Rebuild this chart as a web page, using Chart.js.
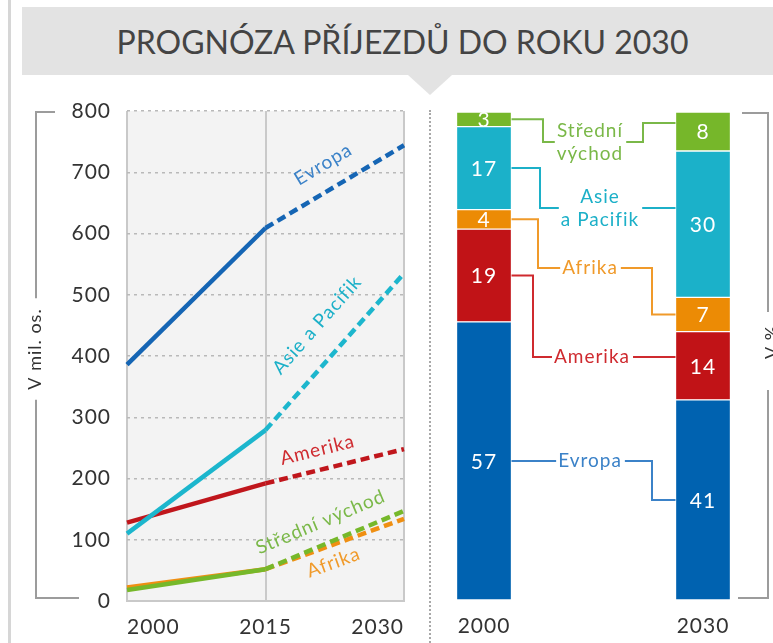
<!DOCTYPE html>
<html><head><meta charset="utf-8">
<script src="https://cdn.jsdelivr.net/npm/chart.js@4.4.1/dist/chart.umd.min.js"></script>
<style>
html,body{margin:0;padding:0;background:#fff;width:773px;height:643px;overflow:hidden}
#wrap{position:relative;width:773px;height:643px;font-family:Lato,sans-serif}
#edge{position:absolute;left:8px;top:0;width:3px;height:643px;background:#d6d6d6}
#titlebox{position:absolute;left:22px;top:7px;width:751px;height:68px;background:#e3e3e3}
#title{position:absolute;left:22px;top:7px;width:761px;height:68px;line-height:70px;text-align:center;font-size:32px;color:#444;white-space:nowrap}
#tri{position:absolute;left:408px;top:75px;width:0;height:0;border-left:22px solid transparent;border-right:22px solid transparent;border-top:20px solid #e3e3e3}
#sep{position:absolute;left:429px;top:110px;height:533px;border-left:2px dotted #a8a8a8}
#c1{position:absolute;left:0;top:0}
#c2{position:absolute;left:430px;top:0}
</style></head>
<body><div id="wrap">
<div id="edge"></div>
<div id="titlebox"></div>
<div id="title">PROGNÓZA PŘÍJEZDŮ DO ROKU 2030</div>
<div id="tri"></div>
<div id="sep"></div>
<canvas id="c1" width="430" height="643" style="width:430px;height:643px"></canvas>
<canvas id="c2" width="343" height="643" style="width:343px;height:643px"></canvas>
</div>
<script>
// ---------- DATA ----------
const years = ['2000', '2015', '2030'];
const evropa = [386, 609, 744];
const asiePacifik = [110, 279, 535];
const amerika = [128, 192, 248];
const stredniVychod = [18, 52, 147];
const afrika = [22, 52, 134];

const barYears = ['2000', '2030'];
const shareEvropa = [57, 41];
const shareAmerika = [19, 14];
const shareAfrika = [4, 7];
const shareAsie = [17, 30];
const shareStredni = [3, 8];

const regionNames = ['Evropa', 'Asie a Pacifik', 'Amerika', 'Střední východ', 'Afrika'];

// ---------- STYLE ----------
const FONT = 'Lato, sans-serif';
const col = {
  evropa: '#1565b4', evropaTxt: '#3b82c8',
  asie: '#1cb6cd', asieTxt: '#1cb0c8',
  amerika: '#c0161c', amerikaTxt: '#cf2a2f',
  sv: '#76b82a', svTxt: '#7ab848',
  afrika: '#ef8f12', afrikaTxt: '#f09a2a'
};
const dashSeg = { borderDash: c => c.p0DataIndex >= 1 ? [9, 5] : undefined };

function lineDs(label, data, color) {
  return { label, data, borderColor: color, backgroundColor: color, borderWidth: 4.5,
    pointRadius: 0, tension: 0, borderCapStyle: 'butt', segment: dashSeg, clip: false };
}

const spacing = {
  id: 'spacing',
  beforeDraw(chart) { chart.ctx.letterSpacing = '1px'; }
};

// labels along projected segment: t = fraction along 2015-2030, d = normal offset (px)
const lineLabels = [
  { ds: 0, text: 'Evropa', color: col.evropaTxt, t: 0.51, d: 25 },
  { ds: 1, text: 'Asie a Pacifik', color: col.asieTxt, t: 0.54, d: 31 },
  { ds: 2, text: 'Amerika', color: col.amerikaTxt, t: 0.41, d: 20 },
  { ds: 3, text: 'Střední východ', color: col.svTxt, t: 0.46, d: 22 },
  { ds: 4, text: 'Afrika', color: col.afrikaTxt, t: 0.45, d: -17 }
];

const lineDeco = {
  id: 'lineDeco',
  beforeDraw(chart) {
    const { ctx, chartArea: a } = chart;
    ctx.save();
    ctx.fillStyle = '#f3f3f3';
    ctx.fillRect(a.left, a.top, a.right - a.left, a.bottom - a.top);
    ctx.restore();
  },
  afterDatasetsDraw(chart) {
    const ctx = chart.ctx;
    ctx.save();
    ctx.font = '19px ' + FONT;
    ctx.textAlign = 'center'; ctx.textBaseline = 'middle';
    for (const L of lineLabels) {
      const m = chart.getDatasetMeta(L.ds);
      const p0 = m.data[1], p1 = m.data[2];
      const dx = p1.x - p0.x, dy = p1.y - p0.y, len = Math.hypot(dx, dy);
      const ux = dx / len, uy = dy / len, nx = uy, ny = -ux;
      const cx = p0.x + ux * len * L.t + nx * L.d;
      const cy = p0.y + uy * len * L.t + ny * L.d;
      ctx.save();
      ctx.translate(cx, cy); ctx.rotate(Math.atan2(dy, dx));
      ctx.fillStyle = L.color;
      ctx.fillText(L.text, 0, 0);
      ctx.restore();
    }
    ctx.restore();
  },
  afterDraw(chart) {
    const { ctx, chartArea: a } = chart;
    ctx.save();
    const title = 'V mil. os.';
    ctx.font = '18px ' + FONT;
    const tw = ctx.measureText(title).width;
    const tx = 35, ty = 349;
    ctx.strokeStyle = '#9c9c9c'; ctx.lineWidth = 2;
    ctx.beginPath();
    ctx.moveTo(55, a.top + 1); ctx.lineTo(36, a.top + 1); ctx.lineTo(36, ty - tw / 2 - 10);
    ctx.moveTo(36, ty + tw / 2 + 10); ctx.lineTo(36, a.bottom - 3); ctx.lineTo(79, a.bottom - 3);
    ctx.stroke();
    ctx.translate(tx, ty); ctx.rotate(-Math.PI / 2);
    ctx.fillStyle = '#333'; ctx.textAlign = 'center'; ctx.textBaseline = 'middle';
    ctx.fillText(title, 0, 0);
    ctx.restore();
  }
};

new Chart(document.getElementById('c1'), {
  type: 'line',
  data: {
    labels: years,
    datasets: [
      lineDs(regionNames[0], evropa, col.evropa),
      lineDs(regionNames[1], asiePacifik, col.asie),
      lineDs(regionNames[2], amerika, col.amerika),
      lineDs(regionNames[3], stredniVychod, col.sv),
      lineDs(regionNames[4], afrika, col.afrika)
    ]
  },
  options: {
    responsive: false, animation: false, devicePixelRatio: 1,
    layout: { padding: { top: 111, right: 26, left: 0, bottom: 0 } },
    plugins: { legend: { display: false }, tooltip: { enabled: false } },
    scales: {
      x: {
        offset: false,
        grid: { color: '#c9c9c9', lineWidth: 2, drawTicks: false },
        border: { display: true, color: '#c9c9c9', width: 2 },
        ticks: { color: '#333', font: { family: FONT, size: 21 }, padding: 14, maxRotation: 0, align: 'inner' },
        afterFit(s) { s.height = 42; }
      },
      y: {
        min: 0, max: 800,
        grid: { color: '#b9b9b9', lineWidth: 1.5, drawTicks: false },
        border: { display: false, dash: c => (c.tick && c.tick.value === 0) ? [] : [3, 4] },
        ticks: { stepSize: 100, color: '#333', font: { family: FONT, size: 21 }, padding: 16 },
        afterFit(s) { s.width = 127; }
      }
    }
  },
  plugins: [spacing, lineDeco]
});

// ---------- RIGHT: stacked shares ----------
// connector layout (canvas px): e1 = first elbow x, row = label row y, lines = label text lines,
// tx = label centre x, e2 = second elbow x, endY = y at 2030 bar (null = segment centre)
const connectors = [
  { ds: 4, lines: ['Střední', 'východ'], color: col.svTxt, e1: 113, row: 142, tx: 160, e2: 213, endY: 123 },
  { ds: 3, lines: ['Asie', 'a Pacifik'], color: col.asieTxt, e1: 110, row: 208, tx: 170, e2: null, endY: 208 },
  { ds: 2, lines: ['Afrika'], color: col.afrikaTxt, e1: 108, row: 268, tx: 160, e2: 222, endY: null },
  { ds: 1, lines: ['Amerika'], color: col.amerikaTxt, e1: 103, row: 357, tx: 162, e2: null, endY: 357 },
  { ds: 0, lines: ['Evropa'], color: col.evropaTxt, e1: null, row: null, tx: 160, e2: 222, endY: null }
];

const barDeco = {
  id: 'barDeco',
  afterDatasetsDraw(chart) {
    const ctx = chart.ctx;
    ctx.save();
    // values inside segments
    ctx.font = '21px ' + FONT;
    ctx.textAlign = 'center'; ctx.textBaseline = 'middle';
    chart.data.datasets.forEach((ds, i) => {
      chart.getDatasetMeta(i).data.forEach((el, j) => {
        const top = Math.min(el.y, el.base), bot = Math.max(el.y, el.base);
        ctx.save();
        ctx.beginPath(); ctx.rect(el.x - el.width / 2, top, el.width, bot - top); ctx.clip();
        ctx.fillStyle = '#fff';
        ctx.fillText(String(ds.data[j]), el.x, (top + bot) / 2 + 1);
        ctx.restore();
      });
    });
    // connectors
    ctx.font = '19px ' + FONT;
    ctx.lineWidth = 2;
    for (const c of connectors) {
      const m = chart.getDatasetMeta(c.ds);
      const b0 = m.data[0], b1 = m.data[1];
      const sx = b0.x + b0.width / 2, sy = (b0.y + b0.base) / 2;
      const ex = b1.x - b1.width / 2, ey = c.endY != null ? c.endY : (b1.y + b1.base) / 2;
      const row = c.row != null ? c.row : sy;
      let w = 0; c.lines.forEach(t => { w = Math.max(w, ctx.measureText(t).width); });
      const tl = c.tx - w / 2 - 2, tr = c.tx + w / 2 + 3;
      ctx.strokeStyle = c.color; ctx.fillStyle = c.color;
      ctx.beginPath();
      ctx.moveTo(sx, sy);
      if (c.e1 != null) { ctx.lineTo(c.e1, sy); ctx.lineTo(c.e1, row); }
      ctx.lineTo(tl, row);
      ctx.moveTo(tr, row);
      if (c.e2 != null) { ctx.lineTo(c.e2, row); ctx.lineTo(c.e2, ey); }
      ctx.lineTo(ex, ey);
      ctx.stroke();
      const lh = 23;
      c.lines.forEach((t, k) => {
        const y = row + (k - (c.lines.length - 1) / 2) * lh;
        ctx.fillText(t, c.tx, y);
      });
    }
    ctx.restore();
  },
  afterDraw(chart) {
    const { ctx, chartArea: a } = chart;
    ctx.save();
    ctx.strokeStyle = '#9c9c9c'; ctx.lineWidth = 2;
    const x = 338;
    ctx.beginPath();
    ctx.moveTo(312, a.top + 1); ctx.lineTo(x, a.top + 1); ctx.lineTo(x, 312);
    ctx.moveTo(x, 390); ctx.lineTo(x, a.bottom - 2); ctx.lineTo(308, a.bottom - 2);
    ctx.stroke();
    ctx.font = '18px ' + FONT;
    ctx.translate(342, 342); ctx.rotate(-Math.PI / 2);
    ctx.fillStyle = '#333'; ctx.textAlign = 'center'; ctx.textBaseline = 'middle';
    ctx.fillText('V %', 0, 0);
    ctx.restore();
  }
};

function barDs(label, data, color) {
  return { label, data, backgroundColor: color, borderColor: '#ffffff', borderWidth: 1,
    borderSkipped: false, barThickness: 55, clip: false };
}

new Chart(document.getElementById('c2'), {
  type: 'bar',
  data: {
    labels: barYears,
    datasets: [
      barDs(regionNames[0], shareEvropa, '#0062b0'),
      barDs(regionNames[2], shareAmerika, '#c11317'),
      barDs(regionNames[4], shareAfrika, '#ec8b05'),
      barDs(regionNames[1], shareAsie, '#1bb1c9'),
      barDs(regionNames[3], shareStredni, '#76b72a')
    ]
  },
  options: {
    responsive: false, animation: false, devicePixelRatio: 1,
    layout: { padding: { top: 112, right: 70, left: 54, bottom: 0 } },
    plugins: { legend: { display: false }, tooltip: { enabled: false } },
    scales: {
      x: {
        stacked: true, offset: false,
        grid: { display: false, drawTicks: false }, border: { display: false },
        ticks: { color: '#333', font: { family: FONT, size: 21 }, padding: 14, maxRotation: 0 },
        afterFit(s) { s.height = 43; }
      },
      y: { stacked: true, min: 0, max: 100, display: false }
    }
  },
  plugins: [spacing, barDeco]
});
</script>
</body></html>
